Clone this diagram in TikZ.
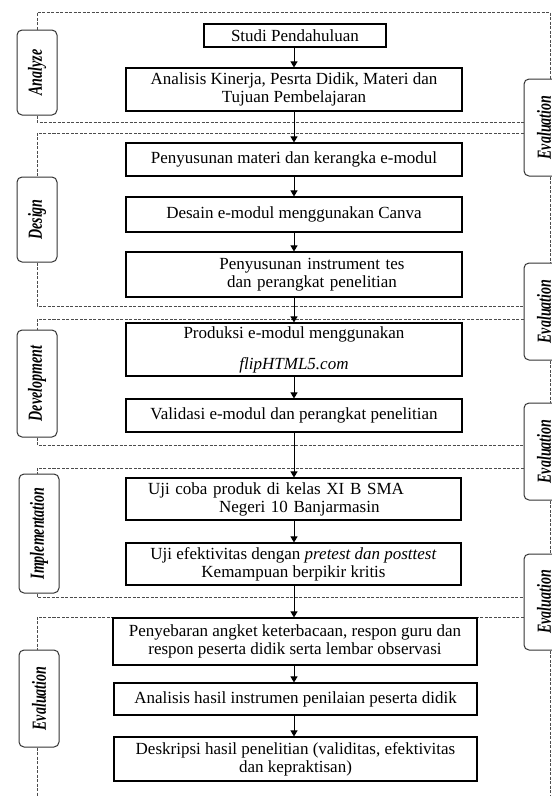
\documentclass[tikz,border=0pt]{standalone}
\usepackage{fontspec}
\setmainfont{Liberation Serif}
\usetikzlibrary{arrows.meta,calc}
\newcommand{\phasetext}[1]{\rotatebox{90}{\fontsize{20}{20}\selectfont\bfseries\itshape\scalebox{0.7}[1]{#1}}}
\tikzset{
  procbox/.style={draw=black, line width=1.1pt, fill=white, inner sep=0pt, align=center, font=\fontsize{17}{18}\selectfont},
  phaselbl/.style={draw=black!80, line width=1pt, rounded corners=5pt, fill=white, minimum width=40pt, inner sep=0pt},
  dline/.style={draw=black!70, line width=0.8pt, dash pattern=on 3pt off 1.5pt},
  arr/.style={draw=black, line width=1pt, -{Triangle[length=6pt,width=7pt]}},
}
\begin{document}
\begin{tikzpicture}[x=1pt,y=-1pt]
\useasboundingbox (0,0) rectangle (552,796);
\clip (0,0) rectangle (552,796);
% phase labels (left)
\node[phaselbl, minimum height=85pt] (lA) at (37,72.5) {\phasetext{Analyze}};
\node[phaselbl, minimum height=85pt] (lD) at (37,219.5) {\phasetext{Design}};
\node[phaselbl, minimum height=107pt] (lV) at (37,383.5) {\phasetext{Development}};
\node[phaselbl, minimum height=119pt] (lI) at (39,533.5) {\phasetext{Implementation}};
\node[phaselbl, minimum height=97pt] (lE) at (39,698.5) {\phasetext{Evaluation}};
% evaluation labels (right)
\node[phaselbl, minimum height=97pt] (ev1) at (544,127.5) {\phasetext{Evaluation}};
\node[phaselbl, minimum height=97pt] (ev2) at (544,311.5) {\phasetext{Evaluation}};
\node[phaselbl, minimum height=97pt] (ev3) at (544,451.5) {\phasetext{Evaluation}};
\node[phaselbl, minimum height=96pt] (ev4) at (544,602) {\phasetext{Evaluation}};
% coordinates
\coordinate (cA0) at (37,12);
\coordinate (cTR) at (550,12);
\coordinate (cA1) at (37,122);
\coordinate (cD0) at (37,133);
\coordinate (cD1) at (37,306);
\coordinate (cV0) at (37,319);
\coordinate (cV1) at (37,445);
\coordinate (cI0) at (37,468);
\coordinate (cI1) at (37,597);
\coordinate (cE0) at (37,617);
\coordinate (cE1) at (37,796);
\coordinate (cBR) at (550,796);
\coordinate (ax) at (294,0);
% dashed phase frames
\draw[dline] (lA.north) -- (cA0) -- (cTR) -- (cTR |- ev1.north);
\draw[dline] (lA.south) -- (cA1) -- (cA1 -| ev1.west);
\draw[dline] (cD0 -| ev1.west) -- (cD0) -- (lD.north);
\draw[dline] (lD.south) -- (cD1) -- (cD1 -| ev2.west);
\draw[dline] (cV0 -| ev2.west) -- (cV0) -- (lV.north);
\draw[dline] (lV.south) -- (cV1) -- (cV1 -| ev3.west);
\draw[dline] (cI0 -| ev3.west) -- (cI0) -- (cI0 |- lI.north);
\draw[dline] (lI.south -| cI1) -- (cI1) -- (cI1 -| ev4.west);
\draw[dline] (cE0 -| ev4.west) -- (cE0) -- (cE0 |- lE.north);
\draw[dline] (lE.south -| cE1) -- (cE1);
\draw[dline] (ev1.south -| cTR) -- (ev2.north -| cTR);
\draw[dline] (ev2.south -| cTR) -- (ev3.north -| cTR);
\draw[dline] (ev3.south -| cTR) -- (ev4.north -| cTR);
\draw[dline] (ev4.south -| cTR) -- (cBR);
% process boxes
\node[procbox, minimum width=182pt, minimum height=23pt] (b1) at (295,35.5) {Studi Pendahuluan};
\node[procbox, minimum width=336pt, minimum height=43pt] (b2) at (294,89.5) {Analisis Kinerja, Pesrta Didik, Materi dan\\Tujuan Pembelajaran};
\node[procbox, minimum width=336pt, minimum height=33pt] (b3) at (294,159.5) {Penyusunan materi dan kerangka e-modul};
\node[procbox, minimum width=336pt, minimum height=35pt] (b4) at (294,214.5) {Desain e-modul menggunakan Canva};
\node[procbox, minimum width=336pt, minimum height=45pt, text width=336pt] (b5) at (294,274.5) {\hspace*{36pt}Penyusunan instrument tes\\\hspace*{36pt}dan perangkat penelitian};
\node[procbox, minimum width=336pt, minimum height=53pt] (b6) at (294,349.5) {Produksi e-modul menggunakan\\[13pt]\textit{flipHTML5.com}};
\node[procbox, minimum width=336pt, minimum height=33pt] (b7) at (294,415.5) {Validasi e-modul dan perangkat penelitian};
\node[procbox, minimum width=335pt, minimum height=42pt, text width=335pt, align=left] (b8) at (293.5,499) {\hspace*{22pt}Uji coba produk di kelas XI B SMA\\\hspace*{93pt}Negeri 10 Banjarmasin};
\node[procbox, minimum width=335pt, minimum height=42pt] (b9) at (293.5,564) {Uji efektivitas dengan \textit{pretest dan posttest}\\Kemampuan berpikir kritis};
\node[procbox, minimum width=364pt, minimum height=47pt] (b10) at (295,641.5) {Penyebaran angket keterbacaan, respon guru dan\\respon peserta didik serta lembar observasi};
\node[procbox, minimum width=363pt, minimum height=32pt] (b11) at (295.5,699) {Analisis hasil instrumen penilaian peserta didik};
\node[procbox, minimum width=363pt, minimum height=44pt] (b12) at (295.5,759) {Deskripsi hasil penelitian (validitas, efektivitas\\dan kepraktisan)};
% arrows
\draw[arr] (b1.south -| ax) -- (b2.north -| ax);
\draw[arr] (b2.south -| ax) -- (b3.north -| ax);
\draw[arr] (b3.south -| ax) -- (b4.north -| ax);
\draw[arr] (b4.south -| ax) -- (b5.north -| ax);
\draw[arr] (b5.south -| ax) -- (b6.north -| ax);
\draw[arr] (b6.south -| ax) -- (b7.north -| ax);
\draw[arr] (b7.south -| ax) -- (b8.north -| ax);
\draw[arr] (b8.south -| ax) -- (b9.north -| ax);
\draw[arr] (b9.south -| ax) -- (b10.north -| ax);
\draw[arr] (b10.south -| ax) -- (b11.north -| ax);
\draw[arr] (b11.south -| ax) -- (b12.north -| ax);
\end{tikzpicture}
\end{document}
